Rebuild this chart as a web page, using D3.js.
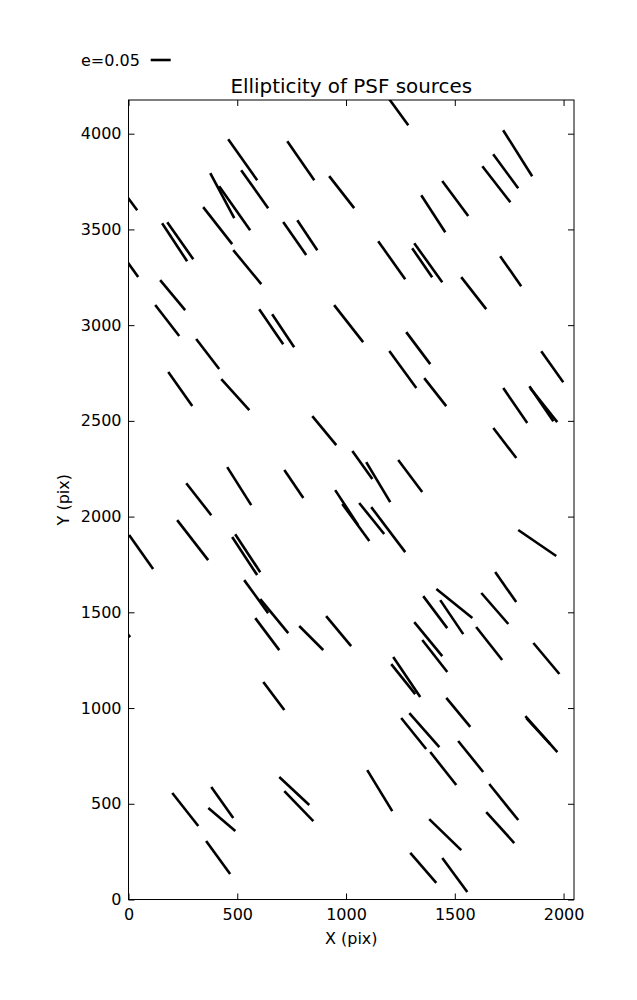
<!DOCTYPE html>
<html><head><meta charset="utf-8">
<script src="https://cdn.jsdelivr.net/npm/d3@7"></script>
<style>body{margin:0;background:#fff}</style>
</head><body>
<script>
// Source positions (pix) and ellipticity vector components
const srcX = [1231,525,792,1789,580,431,488,980,-15,1502,1401,1691,1734,410,212,238,764,822,1210,1378,1350,1757,-6,546,1587,203,178,656,711,1012,364,1332,1261,1948,238,491,1410,1778,1898,1909,900,1730,1075,1148,1295,509,760,323,1003,1045,1118,1194,295,58,534,548,1879,587,670,1734,1498,1410,1486,1684,638,840,966,1378,1408,1658,1921,-43,1279,1263,668,1516,1898,1884,1360,1311,1573,1447,1155,1725,762,783,261,431,429,1709,1456,412,1355,1500];
const srcY = [4130,3864,3859,3898,3710,3676,3611,3695,3684,3661,3582,3736,3804,3520,3433,3441,3452,3470,3339,3326,3326,3282,3332,3303,3167,3157,3024,2992,2971,3008,2849,2880,2768,2783,2666,2637,2650,2580,2590,2582,2449,2384,2269,2180,2212,2159,2170,2091,2047,1969,1990,1932,1877,1815,1794,1809,1862,1582,1480,1632,1546,1501,1475,1520,1386,1366,1402,1360,1272,1337,1259,1441,1162,1151,1063,977,864,880,885,867,747,684,569,509,567,488,470,507,418,376,339,219,165,128];
const eU = [.06,.0725,.0675,.0725,.0675,.06,.0775,.0625,.06,.065,.06,.07,.0625,.0725,.0625,.065,.0575,.05,.0675,.07,.05,.0525,.055,.07,.0625,.0625,.06,.06,.055,.0725,.0575,.06,.0675,.055,.06,.07,.055,.06,.06,.0675,.06,.0575,.05,.06,.06,.06,.0475,.0625,.0575,.0675,.0625,.085,.0775,.06,.0625,.0625,.095,.06,.07,.0525,.09,.06,.0575,.0675,.06,.06,.0625,.07,.0625,.065,.065,.055,.0675,.06,.0525,.06,.08,.06,.075,.0625,.0625,.065,.0625,.0725,.075,.0725,.065,.055,.0675,.07,.08,.06,.065,.0625];
const eV = [-.0825,-.1025,-.0975,-.115,-.095,-.1125,-.11,-.08,-.08,-.0875,-.0925,-.09,-.085,-.0925,-.095,-.0925,-.0825,-.075,-.095,-.0975,-.0725,-.075,-.0775,-.085,-.08,-.075,-.0775,-.0875,-.0825,-.0925,-.075,-.08,-.0925,-.0775,-.085,-.0775,-.07,-.0875,-.0875,-.085,-.0725,-.075,-.07,-.1,-.08,-.095,-.07,-.08,-.0875,-.0925,-.0775,-.1125,-.1,-.085,-.095,-.095,-.065,-.0825,-.085,-.075,-.0725,-.08,-.085,-.0775,-.08,-.06,-.075,-.085,-.08,-.0825,-.0775,-.0675,-.1,-.075,-.07,-.0725,-.09,-.065,-.085,-.0775,-.0775,-.0825,-.1025,-.09,-.07,-.075,-.0825,-.0775,-.0575,-.0775,-.0775,-.0825,-.075,-.085];
const xTicks = [0,500,1000,1500,2000];
const yTicks = [0,500,1000,1500,2000,2500,3000,3500,4000];
const keyE = 0.05;
const titleText = "Ellipticity of PSF sources";

const W = 637, H = 1000;
const L = 128.5, R = 574, T = 100, B = 899.5;
const K = 400; // px per unit ellipticity
const font = "DejaVu Sans, sans-serif";

const svg = d3.select("body").append("svg").attr("width", W).attr("height", H);
const x = d3.scaleLinear().domain([0, 2048]).range([L, R]);
const y = d3.scaleLinear().domain([0, 4176]).range([B, T]);

svg.append("defs").append("clipPath").attr("id", "clip")
  .append("rect").attr("x", L).attr("y", T).attr("width", R - L).attr("height", B - T);

const data = srcX.map((d, i) => ({x: d, y: srcY[i], u: eU[i], v: eV[i]}));
svg.append("g").attr("clip-path", "url(#clip)")
  .selectAll("line").data(data).join("line")
  .attr("x1", d => x(d.x) - d.u * K / 2)
  .attr("y1", d => y(d.y) + d.v * K / 2)
  .attr("x2", d => x(d.x) + d.u * K / 2)
  .attr("y2", d => y(d.y) - d.v * K / 2)
  .attr("stroke", "#000").attr("stroke-width", 2.6);

// Frame
svg.append("rect").attr("x", L).attr("y", T).attr("width", R - L).attr("height", B - T)
  .attr("fill", "none").attr("stroke", "#000").attr("stroke-width", 1);

const tl = 6;
const axB = svg.append("g").attr("transform", `translate(0,${B})`)
  .call(d3.axisBottom(x).tickValues(xTicks).tickFormat(d3.format("d")).tickSizeInner(-tl).tickSizeOuter(0).tickPadding(9));
const axT = svg.append("g").attr("transform", `translate(0,${T})`)
  .call(d3.axisTop(x).tickValues(xTicks).tickFormat("").tickSizeInner(-tl).tickSizeOuter(0));
const axL = svg.append("g").attr("transform", `translate(${L},0)`)
  .call(d3.axisLeft(y).tickValues(yTicks).tickFormat(d3.format("d")).tickSizeInner(-tl).tickSizeOuter(0).tickPadding(7));
const axR = svg.append("g").attr("transform", `translate(${R},0)`)
  .call(d3.axisRight(y).tickValues(yTicks).tickFormat("").tickSizeInner(-tl).tickSizeOuter(0));
[axB, axT, axL, axR].forEach(a => {
  a.select(".domain").remove();
  a.selectAll("line").attr("stroke", "#000");
  a.selectAll("text").attr("font-family", font).attr("font-size", 16).attr("fill", "#000");
});

svg.append("text").attr("x", (L + R) / 2).attr("y", 944).attr("text-anchor", "middle")
  .attr("font-family", font).attr("font-size", 16).text("X (pix)");
svg.append("text").attr("transform", `translate(68.5,${(T + B) / 2}) rotate(-90)`).attr("text-anchor", "middle")
  .attr("font-family", font).attr("font-size", 16).text("Y (pix)");
svg.append("text").attr("x", (L + R) / 2).attr("y", 93.3).attr("text-anchor", "middle")
  .attr("font-family", font).attr("font-size", 19.9).text(titleText);

// Key
svg.append("text").attr("x", 81).attr("y", 66).attr("font-family", font).attr("font-size", 16).text("e=" + keyE.toFixed(2));
svg.append("line").attr("x1", 150.7).attr("x2", 150.7 + keyE * K).attr("y1", 60).attr("y2", 60)
  .attr("stroke", "#000").attr("stroke-width", 2.6);
</script>
</body></html>
